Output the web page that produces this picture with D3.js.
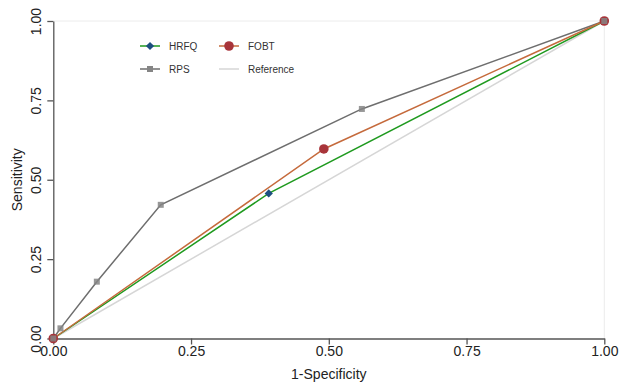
<!DOCTYPE html>
<html><head><meta charset="utf-8">
<script src="https://cdn.jsdelivr.net/npm/d3@7"></script>
<style>body{margin:0;background:#fff}svg{display:block;font-family:"Liberation Sans",Arial,sans-serif}</style>
</head><body><svg id="c" width="622" height="385"></svg>
<script>
const ticks = [0, 0.25, 0.5, 0.75, 1];
const tickLabels = ["0.00", "0.25", "0.50", "0.75", "1.00"];
const hrfqX = [0, 0.391, 1];
const hrfqY = [0, 0.457, 1];
const fobtX = [0, 0.491, 1];
const fobtY = [0, 0.597, 1];
const rpsX = [0, 0.013, 0.079, 0.195, 0.560, 1];
const rpsY = [0, 0.032, 0.179, 0.421, 0.723, 1];
const refX = [0, 1];
const refY = [0, 1];
const legendNames = ["HRFQ", "FOBT", "RPS", "Reference"];

const svg = d3.select("#c");
const x = d3.scaleLinear().domain([0, 1]).range([53.3, 604.3]);
const y = d3.scaleLinear().domain([0, 1]).range([338.5, 21]);

svg.append("line").attr("x1", x(0)).attr("x2", x(1)).attr("y1", y(1)).attr("y2", y(1)).attr("stroke", "#ececec");
svg.append("line").attr("x1", x(1)).attr("x2", x(1)).attr("y1", y(0)).attr("y2", y(1)).attr("stroke", "#ececec");

const zip = (a, b) => a.map((v, i) => [v, b[i]]);
const line = d3.line().x(d => x(d[0])).y(d => y(d[1]));

const xa = svg.append("g").attr("transform", `translate(0,${y(0)})`)
  .call(d3.axisBottom(x).tickValues(ticks).tickFormat((d, i) => tickLabels[i]).tickSize(6).tickSizeOuter(0));
const ya = svg.append("g").attr("transform", `translate(${x(0)},0)`)
  .call(d3.axisLeft(y).tickValues(ticks).tickFormat((d, i) => tickLabels[i]).tickSize(6).tickSizeOuter(0));
[xa, ya].forEach(g => {
  g.select(".domain").attr("stroke", "#555").attr("stroke-width", 1.3);
  g.selectAll(".tick line").attr("stroke", "#555").attr("stroke-width", 1.3);
  g.selectAll("text").attr("fill", "#222").style("font-size", "14px").style("font-family", "Liberation Sans, Arial, sans-serif");
});
xa.selectAll("text").attr("dy", "0.71em").attr("y", 8);
ya.selectAll("text").attr("transform", "rotate(-90)").attr("x", 0).attr("y", -12).attr("dy", 0).attr("text-anchor", "middle");

svg.append("text").attr("x", x(0.5)).attr("y", 379).attr("text-anchor", "middle")
  .style("font-size", "14px").attr("fill", "#222").text("1-Specificity");
svg.append("text").attr("transform", `translate(22,${y(0.5)}) rotate(-90)`).attr("text-anchor", "middle")
  .style("font-size", "14px").attr("fill", "#222").text("Sensitivity");

const series = [
  {name: legendNames[3], pts: zip(refX, refY), color: "#d6d6d6", mk: null},
  {name: legendNames[2], pts: zip(rpsX, rpsY), color: "#6e6e6e", mk: "square", mc: "#858585"},
  {name: legendNames[0], pts: zip(hrfqX, hrfqY), color: "#1f9a1f", mk: "diamond", mc: "#1d4f80"},
  {name: legendNames[1], pts: zip(fobtX, fobtY), color: "#c56a3c", mk: "circle", mc: "#a8343a"}
];
const sym = {square: d3.symbolSquare, diamond: d3.symbolSquare, circle: d3.symbolCircle};
const sz = {square: 36, diamond: 34, circle: 72};
const rot = {square: 0, diamond: 45, circle: 0};
series.forEach(s => {
  svg.append("path").datum(s.pts).attr("d", line).attr("fill", "none").attr("stroke", s.color).attr("stroke-width", 1.5);
});
[series[2], series[3], series[1]].forEach(s => {
  svg.selectAll(null).data(s.pts).enter().append("path")
    .attr("d", d3.symbol().type(sym[s.mk]).size(sz[s.mk]))
    .attr("transform", d => `translate(${x(d[0])},${y(d[1])}) rotate(${rot[s.mk]})`)
    .attr("fill", s.mc).attr("fill-opacity", s.mk === "square" ? 0.85 : 1);
});

const leg = [
  {s: series[2], lx: 140, ly: 46},
  {s: series[3], lx: 219, ly: 46},
  {s: series[1], lx: 140, ly: 69},
  {s: series[0], lx: 219, ly: 69}
];
leg.forEach(l => {
  const s = l.s;
  svg.append("line").attr("x1", l.lx).attr("x2", l.lx + 20).attr("y1", l.ly).attr("y2", l.ly)
    .attr("stroke", s.color).attr("stroke-width", 1.5);
  if (s.mk) svg.append("path").attr("d", d3.symbol().type(sym[s.mk]).size(sz[s.mk]))
    .attr("transform", `translate(${l.lx + 10},${l.ly}) rotate(${rot[s.mk]})`).attr("fill", s.mc);
  svg.append("text").attr("x", l.lx + 29).attr("y", l.ly + 3.5).style("font-size", "10px").attr("fill", "#333").text(s.name);
});
</script></body></html>
